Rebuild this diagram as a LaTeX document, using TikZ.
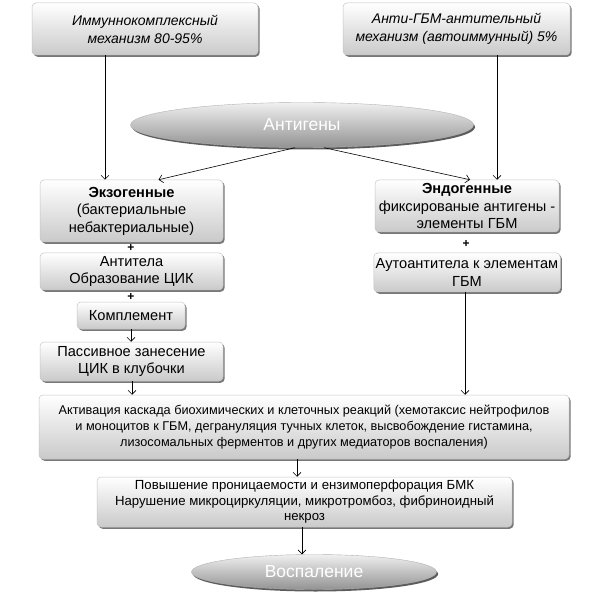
\documentclass[tikz,border=0pt]{standalone}
\usepackage{fontspec}
\setmainfont{Liberation Sans}
\usetikzlibrary{shapes.geometric,shadows,calc,arrows.meta}
\tikzset{
  boxnode/.style={draw=gray!45, line width=0.5pt, rounded corners=4pt,
    top color=white, bottom color=gray!42, align=center, inner sep=2pt,
    drop shadow={shadow xshift=1.6pt, shadow yshift=-1.8pt, fill=black!70, opacity=0.75},
    font=\fontsize{14.6}{17.5}\selectfont},
  ellnode/.style={ellipse, draw=gray!60, line width=0.4pt, top color=gray!12, bottom color=gray!85,
    text=white, inner sep=0pt,
    drop shadow={shadow xshift=1.6pt, shadow yshift=-2pt, fill=black!75, opacity=0.85},
    font=\fontsize{17.5}{20}\selectfont},
  arr/.style={draw=black, line width=0.6pt, -{Straight Barb[length=4pt,width=8pt]}},
  plusnode/.style={font=\bfseries\fontsize{12}{12}\selectfont, inner sep=0pt}
}
\begin{document}
\begin{tikzpicture}[x=1pt,y=-1pt]
\useasboundingbox (0,0) rectangle (600,596);
\fill[white] (0,0) rectangle (600,596);

\node[boxnode, minimum width=226pt, minimum height=52pt, font=\itshape\fontsize{14}{18}\selectfont] (b1) at (145,29) {Иммуннокомплексный\\механизм 80-95\%};
\node[boxnode, minimum width=227pt, minimum height=52pt, font=\itshape\fontsize{14}{18}\selectfont] (b2) at (456.5,29) {Анти-ГБМ-антительный\\механизм (автоиммунный) 5\%};

\node[ellnode, minimum width=343pt, minimum height=45pt] (ant) at (302,125) {Антигены};

\node[boxnode, minimum width=183pt, minimum height=62pt] (exo) at (131.5,211) {\textbf{Экзогенные}\\(бактериальные\\небактериальные)};
\node[boxnode, minimum width=184pt, minimum height=52pt] (endo) at (467,206) {\textbf{Эндогенные}\\фиксированые антигены -\\элементы ГБМ};

\node[boxnode, minimum width=183pt, minimum height=37pt] (antitela) at (131.5,271.5) {Антитела\\Образование ЦИК};
\node[boxnode, minimum width=184pt, minimum height=39pt] (auto) at (467,272.5) {Аутоантитела к элементам\\ГБМ};

\node[boxnode, minimum width=108pt, minimum height=27pt] (kompl) at (131,315.5) {Комплемент};
\node[boxnode, minimum width=183pt, minimum height=39pt] (pass) at (131.5,361.5) {Пассивное занесение\\ЦИК в клубочки};

\node[boxnode, minimum width=530pt, minimum height=64pt, font=\fontsize{12.7}{16}\selectfont] (activ) at (304,427) {Активация каскада биохимических и клеточных реакций (хемотаксис нейтрофилов\\и моноцитов к ГБМ, дегрануляция тучных клеток, высвобождение гистамина,\\лизосомальных ферментов и других медиаторов воспаления)};

\node[boxnode, minimum width=415pt, minimum height=50pt, font=\fontsize{13.2}{15.5}\selectfont] (pov) at (304.5,502) {Повышение проницаемости и ензимоперфорация БМК\\Нарушение микроциркуляции, микротромбоз, фибриноидный\\некроз};

\node[ellnode, minimum width=245pt, minimum height=35pt] (vosp) at (314,572) {Воспаление};

\node[plusnode] (p1) at (131,248) {+};
\node[plusnode] (p2) at (131,296.5) {+};
\node[plusnode] (p3) at (466,243.5) {+};

\coordinate (xa) at (105,0);
\coordinate (xb) at (497,0);
\coordinate (xc) at (131,0);
\coordinate (xd) at (132,0);
\coordinate (xe) at (465,0);
\coordinate (xf) at (297,0);
\coordinate (xg) at (302,0);

\draw[arr] (b1.south -| xa) -- (exo.north -| xa);
\draw[arr] (b2.south -| xb) -- (endo.north -| xb);
\draw[arr] ($(ant.south)+(-7,0)$) -- ($(exo.north)+(27,0)$);
\draw[arr] ($(ant.south)+(22,0)$) -- ($(endo.north)+(3,0)$);
\draw[arr] (kompl.south -| xc) -- (pass.north -| xc);
\draw[arr] (pass.south -| xd) -- (activ.north -| xd);
\draw[arr] (auto.south -| xe) -- (activ.north -| xe);
\draw[arr] (activ.south -| xf) -- (pov.north -| xf);
\draw[arr] (pov.south -| xg) -- (vosp.north -| xg);
\end{tikzpicture}
\end{document}
